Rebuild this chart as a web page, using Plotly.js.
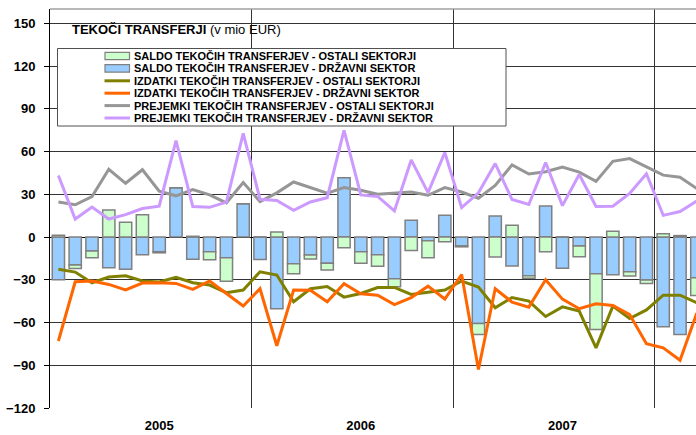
<!DOCTYPE html>
<html><head><meta charset="utf-8">
<script src="https://cdn.plot.ly/plotly-3.0.1.min.js"></script>
<style>html,body{margin:0;padding:0;background:#fff}#chart{width:696px;height:435px}</style>
</head><body><div id="chart"></div>
<script>
// ---- DATA (mio EUR, monthly Jan 2005 .. Mar 2008) ----
const months = [
 '2005-01','2005-02','2005-03','2005-04','2005-05','2005-06','2005-07','2005-08','2005-09','2005-10','2005-11','2005-12',
 '2006-01','2006-02','2006-03','2006-04','2006-05','2006-06','2006-07','2006-08','2006-09','2006-10','2006-11','2006-12',
 '2007-01','2007-02','2007-03','2007-04','2007-05','2007-06','2007-07','2007-08','2007-09','2007-10','2007-11','2007-12',
 '2008-01','2008-02','2008-03'];
const yearTickMonths = ['2005-07','2006-07','2007-07'];
const yearLabels = ['2005','2006','2007'];

const saldoOstali = [1.2,-2.4,-4.8,19,10.4,15.6,-0.8,0,0.5,-5.7,-16.4,0,
  0,3.5,-7.1,-2.8,-4.7,-7.5,-8.2,-8.2,-5.6,-9.4,-11.9,-3.3,
  -0.6,-7.7,-14.1,8.2,-1.7,-10.3,0,-7.5,-39.1,4,-3,-2.4,
  2.3,1,-12.4];
const saldoDrzavni = [-30,-19.7,-9.8,-21.5,-22.7,-12.4,-10.3,34.5,-15.7,-10.3,-14.6,23.4,
  -15.8,-50.4,-18.7,-12.6,-18.5,41.5,-10.3,-12.4,-29.3,11.7,-2.6,15.2,
  -6.3,-60.7,14.8,-20.4,-27.2,21.8,-22,-6.3,-25.8,-26.5,-24.4,-30.2,
  -63,-68.4,-28.6];
const izdatkiOstali = [-22.7,-24.6,-32.1,-28.1,-27.2,-30.9,-31.6,-28.3,-32.1,-33.7,-39.1,-37.2,
  -24.4,-26.7,-45.4,-36.3,-34.7,-42.2,-39.6,-35.5,-35.4,-40.3,-38.8,-37.2,
  -30.9,-35.1,-49.6,-42.5,-45,-55.8,-49,-52,-77.8,-48.5,-57.2,-51.2,
  -40.8,-40.8,-46.2];
const izdatkiDrzavni = [-73,-31.4,-30.9,-33.3,-37.2,-32.3,-32.1,-32.6,-36.8,-30.9,-39.6,-48.4,
  -36.3,-76.3,-37.2,-37.3,-45.5,-32.8,-39.8,-40.8,-47.4,-42.5,-34.5,-43.5,
  -26.3,-93,-36.3,-45.7,-49.2,-30,-43.6,-50.3,-46.9,-48,-54.4,-74.9,
  -77.8,-86.5,-53.3];
const prejemkiOstali = [24.6,22.6,28.4,47.5,37.7,47.2,32.1,28.9,33.2,29.6,24,38.2,
  24.8,31,38.6,34.7,30.7,34.7,32.8,30,30.9,31.6,29.3,34.7,
  31.6,27.2,36.2,50.6,44.2,45.8,49.1,45.5,39,53.1,55,49,
  43.4,42,34];
const prejemkiDrzavni = [43.2,12.6,21,12.6,15.7,20,21.6,67.7,21.4,20.8,24.5,72.8,
  26.5,25.6,18.7,24.6,27.6,74.9,29.5,28.5,18.3,54.1,31.1,59.3,
  20.6,31,51.5,26.3,22.8,52.3,22,43.9,21.4,21.6,30.6,44.4,
  15.2,17.9,25.2];

const names = [
  'SALDO TEKOČIH TRANSFERJEV - OSTALI SEKTORJI',
  'SALDO TEKOČIH TRANSFERJEV - DRŽAVNI SEKTOR',
  'IZDATKI TEKOČIH TRANSFERJEV - OSTALI SEKTORJI',
  'IZDATKI TEKOČIH TRANSFERJEV - DRŽAVNI SEKTOR',
  'PREJEMKI TEKOČIH TRANSFERJEV - OSTALI SEKTORJI',
  'PREJEMKI TEKOČIH TRANSFERJEV - DRŽAVNI SEKTOR'];
const colors = ['#CCFFCC','#99CCFF','#808000','#FF6600','#969696','#CC99FF'];

// ---- CHART ----
const x = months.map((m, i) => i);
const FONT = 'Liberation Sans, Arial, sans-serif';
const barLine = {color: '#808080', width: 1.5};
const traces = [
  {type:'bar', x, y: saldoDrzavni, name: names[1], marker:{color: colors[1], line: barLine}, width: 0.73},
  {type:'bar', x, y: saldoOstali, name: names[0], marker:{color: colors[0], line: barLine}, width: 0.73},
  {type:'scatter', mode:'lines', x, y: izdatkiOstali, name: names[2], line:{color: colors[2], width: 3}},
  {type:'scatter', mode:'lines', x, y: izdatkiDrzavni, name: names[3], line:{color: colors[3], width: 3}},
  {type:'scatter', mode:'lines', x, y: prejemkiOstali, name: names[4], line:{color: colors[4], width: 3}},
  {type:'scatter', mode:'lines', x, y: prejemkiDrzavni, name: names[5], line:{color: colors[5], width: 3}}
];

const W = 696, H = 435, M = {l: 50, r: 0, t: 9, b: 27};
const pw = W - M.l - M.r, ph = H - M.t - M.b;
const px = v => (v - M.l) / pw;
const py = v => (H - M.b - v) / ph;

const shapes = [
  {type:'line', xref:'paper', yref:'paper', x0:0, x1:1, y0:1, y1:1, line:{color:'#A0A0A0', width:1.5}, layer:'above'},
  {type:'rect', xref:'paper', yref:'paper', x0:px(57.5), x1:px(506), y0:py(48.5), y1:py(126),
   fillcolor:'#fff', line:{color:'#505050', width:1}, layer:'above'}
];
const annotations = [
  {xref:'paper', yref:'paper', x:px(70), y:py(29.5), xanchor:'left', yanchor:'middle', showarrow:false,
   text:'<b>TEKOČI TRANSFERJI</b> (v mio EUR)', font:{family:FONT, size:13, color:'#000'}}
];
const legendOrder = [0,1,2,3,4,5];
legendOrder.forEach((k, r) => {
  const cy = 56 + 12.4 * r;
  if (k < 2) {
    shapes.push({type:'rect', xref:'paper', yref:'paper', x0:px(105), x1:px(129.5), y0:py(cy-3.7), y1:py(cy+3.7),
      fillcolor: colors[k], line:{color:'#808080', width:1.2}, layer:'above'});
  } else {
    shapes.push({type:'line', xref:'paper', yref:'paper', x0:px(104.5), x1:px(130), y0:py(cy), y1:py(cy),
      line:{color: colors[k], width:3}, layer:'above'});
  }
  annotations.push({xref:'paper', yref:'paper', x:px(131.5), y:py(cy), xanchor:'left', yanchor:'middle',
    showarrow:false, text:'<b>' + names[k] + '</b>', font:{family:FONT, size:11, color:'#000'}});
});

const layout = {
  width: W, height: H, margin: M,
  paper_bgcolor:'#fff', plot_bgcolor:'#fff',
  barmode:'relative', bargap: 0.27, showlegend:false,
  font:{family:FONT, color:'#000'},
  xaxis:{
    range:[-0.5, 37.95], showgrid:false, zeroline:false, showline:false,
    tickmode:'array', tickvals: yearTickMonths.map(m => months.indexOf(m)), ticktext: yearLabels,
    ticks:'', tickfont:{family:FONT, size:13, color:'#000', weight:'bold'}, ticklabelstandoff: 8,
    minor:{tick0:-0.5, dtick:12, showgrid:true, gridcolor:'#333', gridwidth:1, ticks:''}
  },
  yaxis:{
    range:[-120, 160], tickmode:'array', tickvals:[-120,-90,-60,-30,0,30,60,90,120,150],
    showgrid:true, gridcolor:'#333', gridwidth:1,
    zeroline:true, zerolinecolor:'#000', zerolinewidth:1,
    showline:true, linecolor:'#000', linewidth:1,
    ticks:'outside', ticklen:5, tickcolor:'#000', tickwidth:1,
    tickfont:{family:FONT, size:13, color:'#000', weight:'bold'}, ticklabelstandoff: 6
  },
  shapes, annotations
};
Plotly.newPlot('chart', traces, layout, {displayModeBar:false, staticPlot:true});
</script></body></html>
